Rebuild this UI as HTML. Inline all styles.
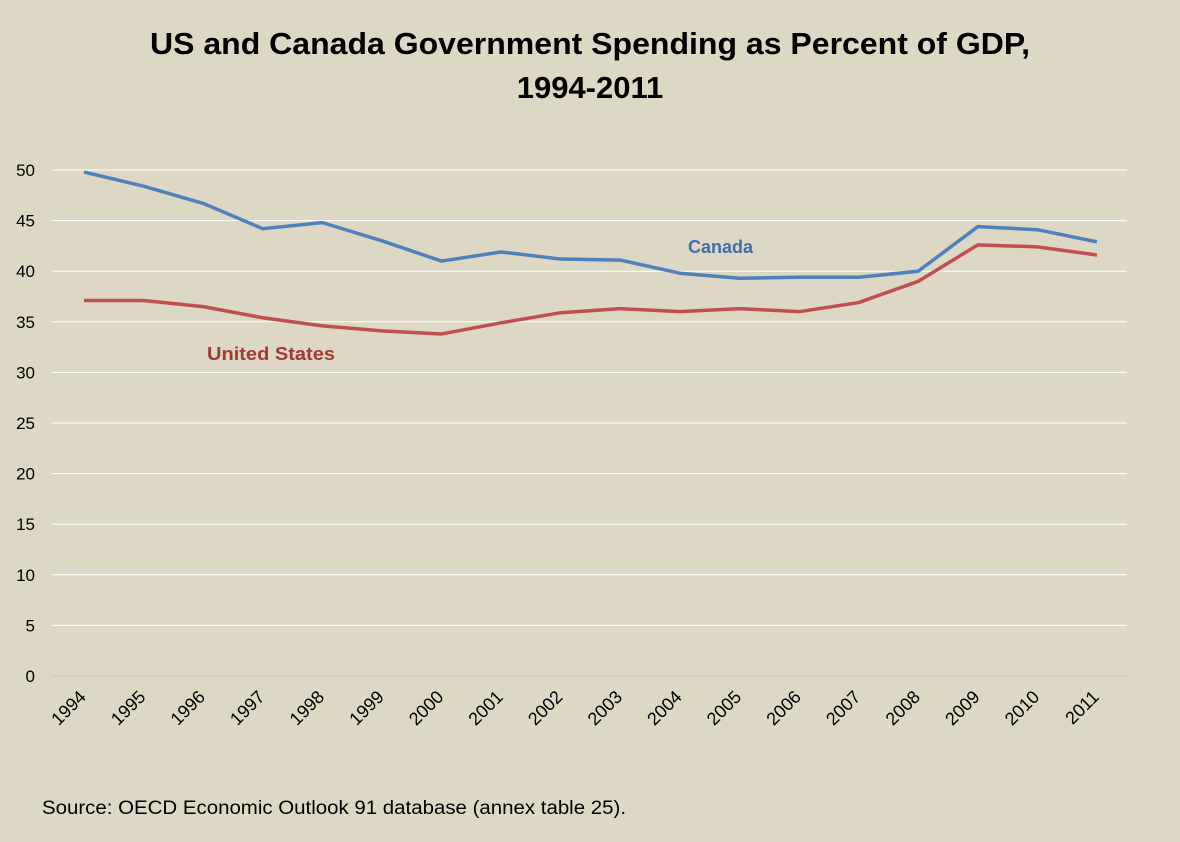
<!DOCTYPE html>
<html><head><meta charset="utf-8"><style>
body{margin:0;background:#ddd8c3;}
svg{display:block;font-family:"Liberation Sans",sans-serif;}
</style></head><body>
<svg id="chart" width="1180" height="842" xmlns="http://www.w3.org/2000/svg">
<rect width="1180" height="842" fill="#ddd8c3"/>
<text x="590" y="54" text-anchor="middle" font-size="31" font-weight="bold" fill="#000" textLength="880" lengthAdjust="spacingAndGlyphs">US and Canada Government Spending as Percent of GDP,</text>
<text x="590" y="98" text-anchor="middle" font-size="31" font-weight="bold" fill="#000">1994-2011</text>
<g id="grid"></g><g id="yticks"></g><g id="xticks"></g><g id="lines"></g>
<text x="688" y="253" font-size="18" font-weight="bold" fill="#3f6fae">Canada</text>
<text x="207" y="360" font-size="18" font-weight="bold" fill="#a33a36" textLength="128" lengthAdjust="spacingAndGlyphs">United States</text>
<text x="42" y="814" font-size="19" fill="#000" textLength="584" lengthAdjust="spacingAndGlyphs">Source: OECD Economic Outlook 91 database (annex table 25).</text>
</svg>
<script>
const years=[1994,1995,1996,1997,1998,1999,2000,2001,2002,2003,2004,2005,2006,2007,2008,2009,2010,2011];
const canada=[49.8,48.4,46.7,44.2,44.8,43.0,41.0,41.9,41.2,41.1,39.8,39.3,39.4,39.4,40.0,44.4,44.1,42.9];
const us=[37.1,37.1,36.5,35.4,34.6,34.1,33.8,34.9,35.9,36.3,36.0,36.3,36.0,36.9,39.0,42.6,42.4,41.6];
const yTicks=[0,5,10,15,20,25,30,35,40,45,50];
const NS="http://www.w3.org/2000/svg";
const x=i=>84+i*(1097-84)/(years.length-1);
const y=v=>676-v*(676-170)/50;
function mk(t,a,p){const e=document.createElementNS(NS,t);for(const k in a)e.setAttribute(k,a[k]);p.appendChild(e);return e;}
const grid=document.getElementById('grid'),yt=document.getElementById('yticks'),xt=document.getElementById('xticks'),lines=document.getElementById('lines');
yTicks.forEach(v=>{
 const l=mk('line',{x1:52,x2:1127,y1:y(v),y2:y(v),stroke:v===0?'#cfcab6':'#ffffff','stroke-width':1},grid);
 
 
 const t=mk('text',{x:35,y:y(v)+6,'text-anchor':'end','font-size':17,fill:'#000'},yt);
 t.textContent=v;
 
 
});
years.forEach((yr,i)=>{
 const tx=x(i)+3, ty=698;
 const t=mk('text',{x:tx,y:ty,'text-anchor':'end','font-size':18,fill:'#000',transform:`rotate(-45 ${tx} ${ty})`},xt);
 t.textContent=yr;
 
 
});
function series(vals,color,name){
 const p=mk('polyline',{points:vals.map((v,i)=>x(i)+','+y(v)).join(' '),fill:'none',stroke:color,'stroke-width':3.5,'stroke-linejoin':'round'},lines);
 
 
}
series(us,'#c0504d','us-line');
series(canada,'#4f81bd','canada-line');
</script>
</body></html>
